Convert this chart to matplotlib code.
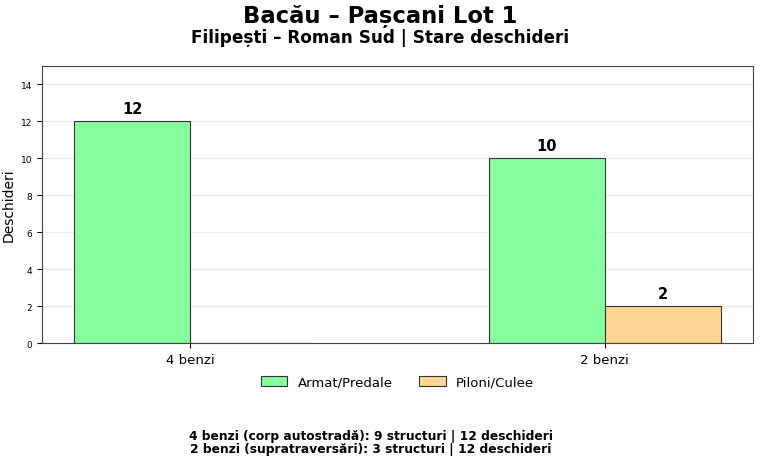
import matplotlib
matplotlib.use("Agg")
import matplotlib.pyplot as plt
import numpy as np

categories = ["4 benzi", "2 benzi"]
armat = [12, 10]
piloni = [0, 2]
series_names = ["Armat/Predale", "Piloni/Culee"]
colors = ["#88ff9f", "#ffd494"]
title = "Bacău – Pașcani Lot 1"
subtitle = "Filipești – Roman Sud | Stare deschideri"
footer = ("4 benzi (corp autostradă): 9 structuri | 12 deschideri\n"
          "2 benzi (supratraversări): 3 structuri | 12 deschideri")

fig = plt.figure(figsize=(7.6, 4.64), dpi=100)
ax = fig.add_axes([42/760, 1-344/464, 711/760, 277/464])

x = np.arange(len(categories))
w = 0.28
b1 = ax.bar(x - w/2, armat, w, color=colors[0], edgecolor="#333333", linewidth=0.8, label=series_names[0])
b2 = ax.bar(x + w/2, piloni, w, color=colors[1], edgecolor="#333333", linewidth=0.8, label=series_names[1])

for bars, vals in ((b1, armat), (b2, piloni)):
    for r, v in zip(bars, vals):
        if v > 0:
            ax.annotate(str(v), (r.get_x() + r.get_width()/2, v), xytext=(0, 4),
                        textcoords="offset points", ha="center", va="bottom",
                        fontsize=10.5, fontweight="bold")

ax.set_ylim(0, 15)
ax.set_yticks([0, 2, 4, 6, 8, 10, 12, 14])
ax.tick_params(axis="y", labelsize=6.5)
ax.set_xticks(x)
ax.set_xticklabels(categories, fontsize=9.5)
ax.set_ylabel("Deschideri", fontsize=10)
ax.yaxis.grid(True, color="#e6e6e6", linewidth=0.8, alpha=0.8)
ax.set_axisbelow(True)
for s in ax.spines.values():
    s.set_color("#444444")

ax.legend(loc="center", bbox_to_anchor=(0.5, -0.141), ncol=2, frameon=False,
          fontsize=9.5, columnspacing=2.0)

fig.text(0.5, 1-17/464, title, ha="center", va="center", fontsize=16.3, fontweight="bold")
fig.text(0.5, 1-38/464, subtitle, ha="center", va="center", fontsize=12.2, fontweight="bold")
fig.text(371/760, 1-443/464, footer, ha="center", va="center", fontsize=8.8,
         fontweight="bold", linespacing=1.05)

fig.savefig("out.png", dpi=100)
